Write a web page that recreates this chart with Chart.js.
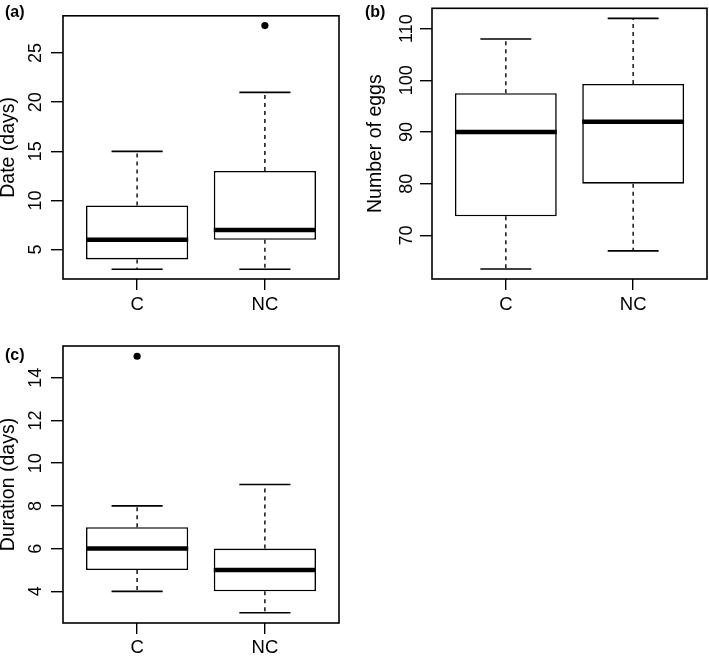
<!DOCTYPE html>
<html><head><meta charset="utf-8">
<script src="https://cdn.jsdelivr.net/npm/chart.js@4.4.0/dist/chart.umd.min.js"></script>
<style>
html,body{margin:0;padding:0;background:#fff;}
#wrap{position:relative;width:709px;height:660px;overflow:hidden;background:#fff;}
canvas{position:absolute;}
.lab{position:absolute;font:bold 16px 'Liberation Sans',Arial,sans-serif;color:#000;line-height:16px;white-space:nowrap;}
</style></head><body>
<div id="wrap">
<canvas id="ca" width="354" height="330" style="left:0;top:0"></canvas>
<canvas id="cb" width="355" height="330" style="left:354px;top:0"></canvas>
<canvas id="cc" width="354" height="330" style="left:0;top:330px"></canvas>
<div class="lab" style="left:5px;top:4px">(a)</div>
<div class="lab" style="left:365px;top:4px">(b)</div>
<div class="lab" style="left:5px;top:347px">(c)</div>
</div>
<script>
const categories = ['C', 'NC'];

// (a) Date (days)
const dateLowerWhisker = [3, 3];
const dateQ1 = [4, 6];
const dateMedian = [6, 7];
const dateQ3 = [9.5, 13];
const dateUpperWhisker = [15, 21];
const dateOutliers = [[], [27.8]];
const dateTicks = [5, 10, 15, 20, 25];

// (b) Number of eggs
const eggsLowerWhisker = [63.5, 67];
const eggsQ1 = [73.7, 80];
const eggsMedian = [90, 92];
const eggsQ3 = [97.5, 99.3];
const eggsUpperWhisker = [108, 112];
const eggsOutliers = [[], []];
const eggsTicks = [70, 80, 90, 100, 110];

// (c) Duration (days)
const durLowerWhisker = [4, 3];
const durQ1 = [5, 4];
const durMedian = [6, 5];
const durQ3 = [7, 6];
const durUpperWhisker = [8, 9];
const durOutliers = [[15], []];
const durTicks = [4, 6, 8, 10, 12, 14];

const FONT = "'Liberation Sans', Arial, Helvetica, sans-serif";
const BOX_HALF = 0.4, CAP_HALF = 0.2;

const framePlugin = {
  id: 'frame',
  afterDatasetsDraw(chart) {
    const {ctx, chartArea: a} = chart;
    ctx.save();
    ctx.strokeStyle = '#000';
    ctx.lineWidth = 1.6;
    ctx.strokeRect(a.left, a.top, a.right - a.left, a.bottom - a.top);
    ctx.restore();
  }
};

function seg(points, width, dash) {
  return {
    type: 'line', data: points, borderColor: '#000', borderWidth: width,
    borderDash: dash || [], pointRadius: 0, fill: false, tension: 0,
    borderCapStyle: 'butt', order: 0
  };
}

function boxChart(id, s) {
  const n = categories.length;
  const all = s.lo.concat(s.hi, ...s.out);
  const dmin = Math.min(...all), dmax = Math.max(...all);
  const pad = 0.04 * (dmax - dmin);
  const datasets = [];
  datasets.push({
    type: 'bar',
    data: categories.map((c, i) => ({x: i + 1, y: [s.q1[i], s.q3[i]]})),
    backgroundColor: '#fff', borderColor: '#000', borderWidth: 1.6,
    borderSkipped: false, categoryPercentage: 1, barPercentage: 2 * BOX_HALF, order: 5
  });
  categories.forEach((c, i) => {
    const x = i + 1;
    datasets.push(seg([{x: x - BOX_HALF, y: s.med[i]}, {x: x + BOX_HALF, y: s.med[i]}], 4.5));
    datasets.push(seg([{x: x, y: s.q3[i]}, {x: x, y: s.hi[i]}], 1.4, [4, 4]));
    datasets.push(seg([{x: x, y: s.q1[i]}, {x: x, y: s.lo[i]}], 1.4, [4, 4]));
    datasets.push(seg([{x: x - CAP_HALF, y: s.hi[i]}, {x: x + CAP_HALF, y: s.hi[i]}], 1.6));
    datasets.push(seg([{x: x - CAP_HALF, y: s.lo[i]}, {x: x + CAP_HALF, y: s.lo[i]}], 1.6));
  });
  const outPts = [];
  s.out.forEach((arr, i) => arr.forEach(v => outPts.push({x: i + 1, y: v})));
  datasets.push({
    type: 'scatter', data: outPts, pointRadius: 3.6, pointBackgroundColor: '#000',
    pointBorderWidth: 0, order: 0
  });

  new Chart(document.getElementById(id), {
    type: 'scatter',
    data: {datasets},
    plugins: [framePlugin],
    options: {
      responsive: false, animation: false, devicePixelRatio: 1,
      layout: {padding: s.padding},
      plugins: {legend: {display: false}, tooltip: {enabled: false}},
      scales: {
        x: {
          type: 'linear', min: 0.5 - 0.04 * n, max: n + 0.5 + 0.04 * n, offset: false,
          afterBuildTicks: sc => { sc.ticks = categories.map((c, i) => ({value: i + 1})); },
          afterFit: sc => { sc.height = s.xH; },
          ticks: {
            callback: v => categories[Math.round(v) - 1] || '', autoSkip: false,
            minRotation: 0, maxRotation: 0, color: '#000', padding: s.xPad,
            font: {family: FONT, size: 18.5}
          },
          grid: {drawOnChartArea: false, drawTicks: true, tickLength: 11, color: '#000', lineWidth: 1.4, offset: false},
          border: {display: false}
        },
        y: {
          type: 'linear', position: 'left', min: dmin - pad, max: dmax + pad,
          afterBuildTicks: sc => { sc.ticks = s.ticks.map(v => ({value: v})); },
          afterFit: sc => { sc.width = s.yW; },
          ticks: {
            minRotation: 90, maxRotation: 90, crossAlign: 'center', color: '#000',
            padding: s.yPad, font: {family: FONT, size: 18}
          },
          grid: {drawOnChartArea: false, drawTicks: true, tickLength: 12, color: '#000', lineWidth: 1.4},
          border: {display: false},
          title: {
            display: true, text: s.title, color: '#000',
            font: {family: FONT, size: 19.5, lineHeight: 1},
            padding: {top: s.tPad, bottom: 0}
          }
        }
      }
    }
  });
}

boxChart('ca', {
  lo: dateLowerWhisker, q1: dateQ1, med: dateMedian, q3: dateQ3, hi: dateUpperWhisker,
  out: dateOutliers, ticks: dateTicks, title: 'Date (days)',
  padding: {top: 3, right: 15, left: 0, bottom: 0}, yW: 63, xH: 51, yPad: 5, xPad: 4, tPad: -1
});
boxChart('cb', {
  lo: eggsLowerWhisker, q1: eggsQ1, med: eggsMedian, q3: eggsQ3, hi: eggsUpperWhisker,
  out: eggsOutliers, ticks: eggsTicks, title: 'Number of eggs',
  padding: {top: 3, right: 2, left: 0, bottom: 0}, yW: 78, xH: 51, yPad: -2.5, xPad: 4, tPad: 12
});
boxChart('cc', {
  lo: durLowerWhisker, q1: durQ1, med: durMedian, q3: durQ3, hi: durUpperWhisker,
  out: durOutliers, ticks: durTicks, title: 'Duration (days)',
  padding: {top: 16, right: 15, left: 0, bottom: 0}, yW: 63, xH: 37, yPad: 5, xPad: 2.5, tPad: -1
});
</script>
</body></html>
